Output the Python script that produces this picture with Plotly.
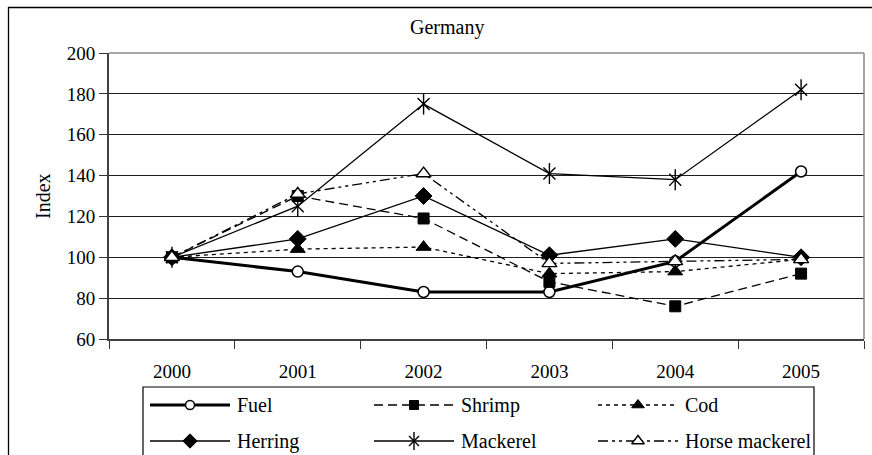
import plotly.graph_objects as go

# ---- data -------------------------------------------------------------
years = ["2000", "2001", "2002", "2003", "2004", "2005"]

fuel = [100, 93, 83, 83, 98, 142]
shrimp = [100, 130, 119, 88, 76, 92]
cod = [100, 104, 105, 92, 93, 99]
herring = [100, 109, 130, 101, 109, 100]
mackerel = [100, 125, 175, 141, 138, 182]
horse_mackerel = [100, 131, 141, 97, 98, 99]

series_names = ["Fuel", "Shrimp", "Cod", "Herring", "Mackerel", "Horse mackerel"]
series_values = [fuel, shrimp, cod, herring, mackerel, horse_mackerel]

y_ticks = [60, 80, 100, 120, 140, 160, 180, 200]

# ---- styling ------------------------------------------------------------
W, H = 872, 455
FONT = "Liberation Serif"
INK = "black"

# line style and marker(s) per series
styles = {
    "Fuel": dict(width=3, dash="solid",
                 markers=[dict(symbol="circle", size=11, color="white", lw=1.5)]),
    "Shrimp": dict(width=1.3, dash="9px,5px",
                   markers=[dict(symbol="square", size=11, color=INK, lw=1)]),
    "Cod": dict(width=1.3, dash="4px,4px",
                markers=[dict(symbol="triangle-up", size=13, color=INK, lw=1)]),
    "Herring": dict(width=1.3, dash="solid",
                    markers=[dict(symbol="diamond", size=13, color=INK, lw=1)]),
    "Mackerel": dict(width=1.3, dash="solid",
                     markers=[dict(symbol="x-thin-open", size=12, color=INK, lw=1.4),
                              dict(symbol="line-ns-open", size=15, color=INK, lw=1.4)]),
    "Horse mackerel": dict(width=1.3, dash="10px,4px,3px,4px,3px,4px",
                           markers=[dict(symbol="triangle-up", size=13, color="white", lw=1.4)]),
}

# plot-area placement (pixels of the 872x455 page)
PX_L, PX_R, PX_T, PX_B = 109, 864, 53, 339
# legend box placement
LG_L, LG_R, LG_T = 143, 814, 387

fig = go.Figure()

# ---- main series --------------------------------------------------------
for name, vals in zip(series_names, series_values):
    st = styles[name]
    m0 = st["markers"][0]
    fig.add_trace(go.Scatter(
        x=years, y=vals, mode="lines+markers", name=name,
        line=dict(color=INK, width=st["width"], dash=st["dash"]),
        marker=dict(symbol=m0["symbol"], size=m0["size"], color=m0["color"],
                    line=dict(color=INK, width=m0["lw"])),
        showlegend=False, xaxis="x", yaxis="y", cliponaxis=False,
    ))
    for m in st["markers"][1:]:
        fig.add_trace(go.Scatter(
            x=years, y=vals, mode="markers", name=name,
            marker=dict(symbol=m["symbol"], size=m["size"], color=m["color"],
                        line=dict(color=INK, width=m["lw"])),
            showlegend=False, xaxis="x", yaxis="y", cliponaxis=False,
        ))

# ---- hand-built legend (3 columns x 2 rows) ------------------------------
col_step, sample_len, text_gap = 224, 80, 85
row_y = [18, 54]
for i, name in enumerate(series_names):
    st = styles[name]
    col, row = i % 3, i // 3
    x0 = 7 + col * col_step
    y = row_y[row]
    fig.add_trace(go.Scatter(
        x=[x0, x0 + sample_len], y=[y, y], mode="lines",
        line=dict(color=INK, width=st["width"], dash=st["dash"]),
        showlegend=False, xaxis="x2", yaxis="y2", cliponaxis=False, hoverinfo="skip",
    ))
    for m in st["markers"]:
        fig.add_trace(go.Scatter(
            x=[x0 + sample_len / 2], y=[y], mode="markers",
            marker=dict(symbol=m["symbol"], size=m["size"] - 2, color=m["color"],
                        line=dict(color=INK, width=m["lw"])),
            showlegend=False, xaxis="x2", yaxis="y2", cliponaxis=False, hoverinfo="skip",
        ))
    fig.add_annotation(
        x=x0 + text_gap, y=y, xref="x2", yref="y2", text=name, showarrow=False,
        xanchor="left", yanchor="middle", font=dict(family=FONT, size=20, color=INK),
    )

# ---- axes ---------------------------------------------------------------
fig.update_layout(
    width=W, height=H, autosize=False,
    margin=dict(l=0, r=0, t=0, b=0),
    paper_bgcolor="white", plot_bgcolor="white",
    font=dict(family=FONT, color=INK),
    showlegend=False,
    xaxis=dict(
        type="category", domain=[PX_L / W, PX_R / W], range=[-0.5, 5.5],
        tickson="boundaries", ticks="outside", ticklen=8, tickwidth=1, tickcolor="#333",
        showline=True, linecolor="#404040", linewidth=2, showgrid=False,
        tickfont=dict(family=FONT, size=19, color=INK), ticklabelstandoff=14,
        anchor="y", fixedrange=True, automargin=False,
    ),
    yaxis=dict(
        domain=[(H - PX_B) / H, (H - PX_T) / H], range=[60, 200],
        tickvals=y_ticks, ticks="outside", ticklen=8, tickwidth=1, tickcolor="#333",
        showline=True, linecolor="#404040", linewidth=2,
        showgrid=True, gridcolor="#1e1e1e", gridwidth=1, zeroline=False,
        tickfont=dict(family=FONT, size=19, color=INK),
        anchor="x", fixedrange=True, automargin=False,
    ),
    xaxis2=dict(domain=[LG_L / W, LG_R / W], range=[0, LG_R - LG_L],
                visible=False, anchor="y2", fixedrange=True, automargin=False),
    yaxis2=dict(domain=[0, (H - LG_T) / H], range=[H - LG_T, 0],
                visible=False, anchor="x2", fixedrange=True, automargin=False),
)

# ---- frames, title, axis title -------------------------------------------
shapes = [
    # outer chart frame
    dict(type="rect", xref="paper", yref="paper",
         x0=8.5 / W, x1=1.02, y0=-0.2, y1=(H - 7.5) / H,
         line=dict(color=INK, width=1.3), fillcolor="rgba(0,0,0,0)", layer="below"),
    # grey plot-area border on top and right
    dict(type="line", xref="paper", yref="paper",
         x0=PX_L / W, x1=PX_R / W, y0=(H - PX_T) / H, y1=(H - PX_T) / H,
         line=dict(color="#8c8c8c", width=1.6)),
    dict(type="line", xref="paper", yref="paper",
         x0=PX_R / W, x1=PX_R / W, y0=(H - PX_B) / H, y1=(H - PX_T) / H,
         line=dict(color="#8c8c8c", width=1.6)),
    # legend box
    dict(type="rect", xref="paper", yref="paper",
         x0=LG_L / W, x1=LG_R / W, y0=-0.2, y1=(H - LG_T) / H,
         line=dict(color=INK, width=1.2), fillcolor="rgba(0,0,0,0)"),
]
fig.update_layout(shapes=shapes)

fig.add_annotation(x=447 / W, y=(H - 27) / H, xref="paper", yref="paper",
                   text="Germany", showarrow=False, xanchor="center", yanchor="middle",
                   font=dict(family=FONT, size=20, color=INK))
fig.add_annotation(x=43 / W, y=(H - (PX_T + PX_B) / 2) / H, xref="paper", yref="paper",
                   text="Index", showarrow=False, textangle=-90,
                   xanchor="center", yanchor="middle",
                   font=dict(family=FONT, size=20, color=INK))

fig.write_html("out.html")
